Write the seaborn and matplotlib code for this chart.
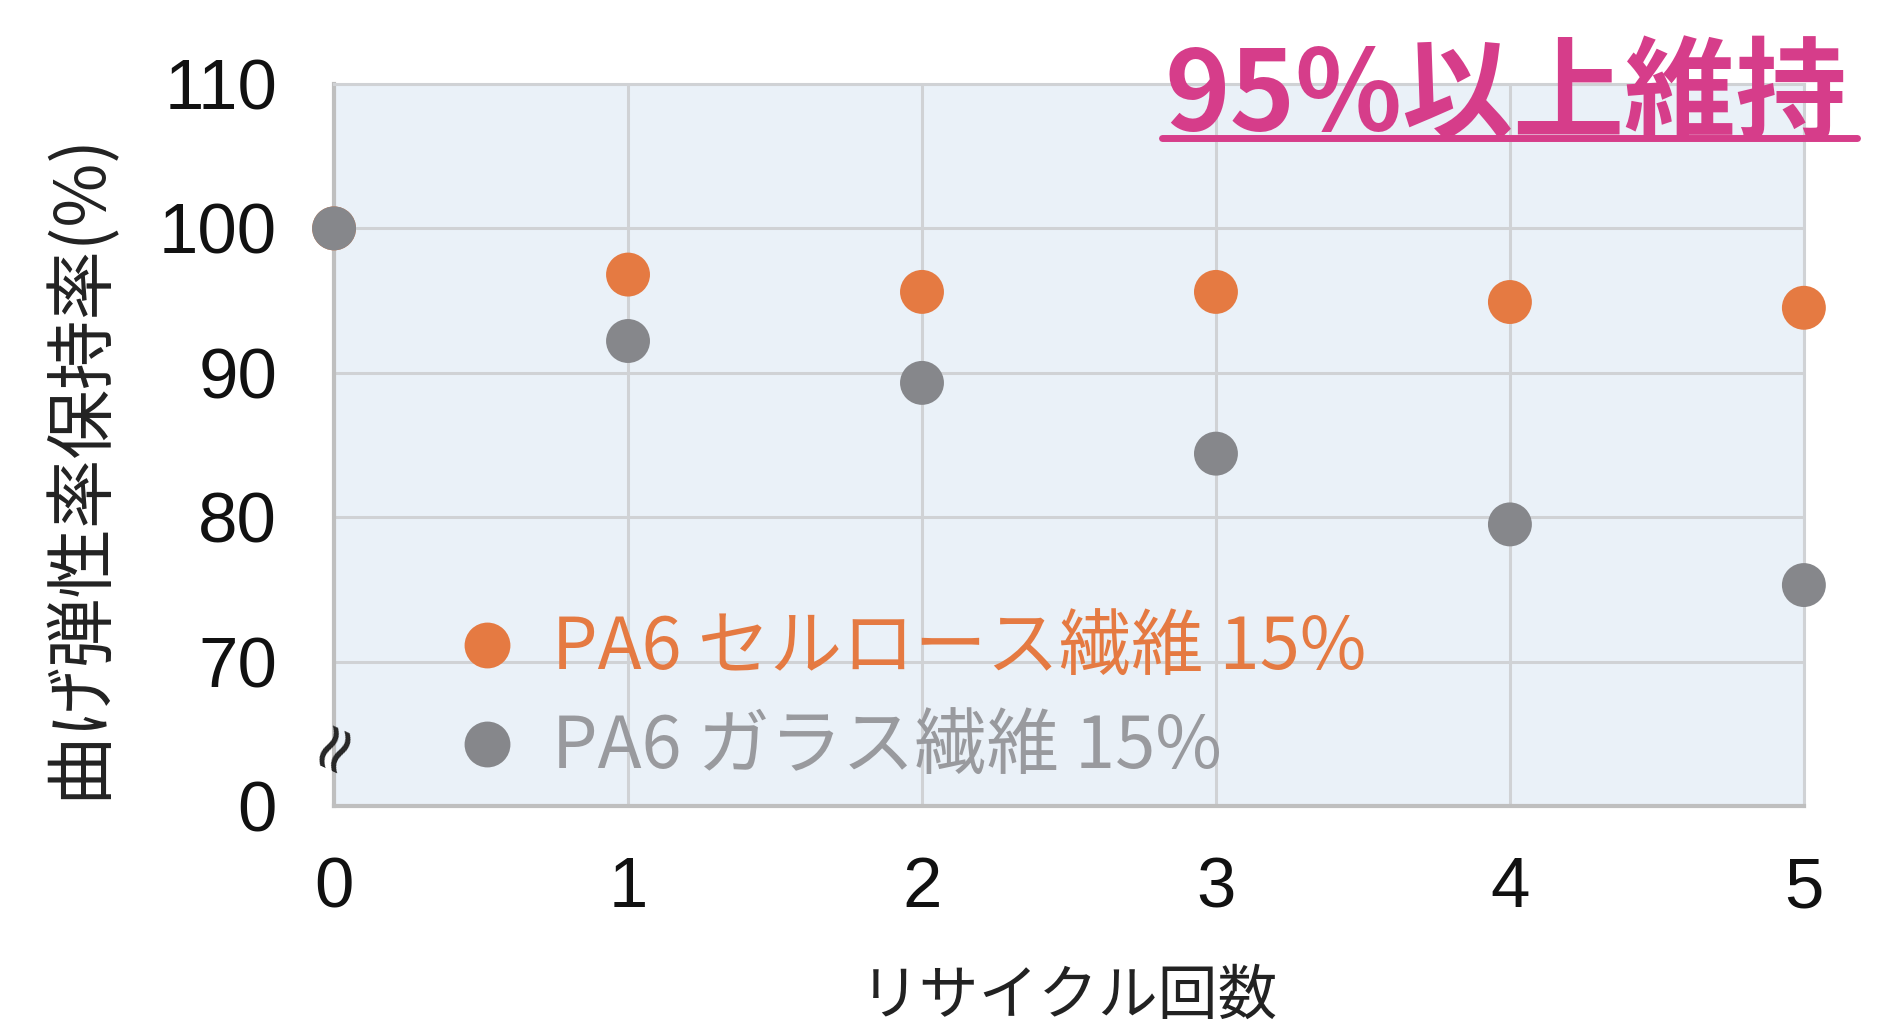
import seaborn as sns
import matplotlib.pyplot as plt
from matplotlib.lines import Line2D
import pandas as pd

# data
cycles = [0, 1, 2, 3, 4, 5]
cellulose = [100, 96.8, 95.6, 95.6, 94.9, 94.5]
glass = [100, 92.2, 89.3, 84.4, 79.5, 75.3]
series_names = ["PA6 セルロース繊維 15%", "PA6 ガラス繊維 15%"]
ytick_vals = [60, 70, 80, 90, 100, 110]
ytick_labels = ["0", "70", "80", "90", "100", "110"]
xtick_vals = [0, 1, 2, 3, 4, 5]

orange = "#E57A42"
grey_pt = "#86878B"
grey_txt = "#999A9E"
pink = "#D63D8A"

df = pd.DataFrame({
    "cycle": cycles * 2,
    "value": cellulose + glass,
    "series": [series_names[0]] * len(cycles) + [series_names[1]] * len(cycles),
})

sns.set_style("white")
plt.rcParams["font.family"] = ["Noto Sans CJK JP", "DejaVu Sans"]

fig = plt.figure(figsize=(18.81, 10.34), dpi=100)
ax = fig.add_axes([0.1776, 0.2205, 0.7814, 0.6983])
ax.set_facecolor("#EAF1F8")

sns.scatterplot(data=df, x="cycle", y="value", hue="series",
                palette=[orange, grey_pt], s=1000, linewidth=0,
                legend=False, ax=ax, zorder=3)
for coll in ax.collections:
    coll.set_clip_on(False)

ax.set_xlim(0, 5)
ax.set_ylim(60, 110)
ax.set_xticks(xtick_vals)
ax.set_yticks(ytick_vals)
ax.set_yticklabels(ytick_labels)
ax.grid(True, color="#D0D2D5", linewidth=2.2)
ax.set_axisbelow(True)
for side in ["top", "right"]:
    ax.spines[side].set_color("#D0D2D5")
    ax.spines[side].set_linewidth(2.2)
for side in ["left", "bottom"]:
    ax.spines[side].set_color("#BFBFBF")
    ax.spines[side].set_linewidth(3)

ax.tick_params(axis="both", length=0, labelsize=51)
ax.tick_params(axis="y", pad=41)
ax.tick_params(axis="x", pad=36)
for lab in ax.get_xticklabels() + ax.get_yticklabels():
    lab.set_family("Liberation Sans")
    lab.set_color("#111111")

ax.set_xlabel("リサイクル回数", fontsize=43, color="#222222")
ax.xaxis.set_label_coords(0.5, -0.265)
ax.xaxis.label.set_va("center")
ax.set_ylabel("曲げ弾性率保持率(%)", fontsize=50, color="#222222")
ax.yaxis.set_label_coords(-0.173, 0.472)
ax.yaxis.label.set_va("center")

# axis break mark
ax.text(0, 64.3, "≈", rotation=65, ha="center", va="center", fontsize=48,
        family="DejaVu Sans", clip_on=False, zorder=5)

handles = [Line2D([], [], marker="o", ls="", ms=33, color=orange, mew=0),
           Line2D([], [], marker="o", ls="", ms=33, color=grey_pt, mew=0)]
leg = ax.legend(handles, series_names, loc="center left",
                bbox_to_anchor=(0.087, 0.148), frameon=False, fontsize=52,
                handlelength=0.7, handletextpad=0.55, labelspacing=0.36,
                borderpad=0, borderaxespad=0)
for t, c in zip(leg.get_texts(), [orange, grey_txt]):
    t.set_color(c)

fig.text(0.8006, 0.874, "95%以上維持", ha="center", va="baseline",
         fontsize=80, fontweight="bold", color=pink)
fig.add_artist(Line2D([0.618, 0.987], [0.8665, 0.8665], color=pink, lw=5,
                      transform=fig.transFigure))

fig.savefig("out.png", dpi=100)
